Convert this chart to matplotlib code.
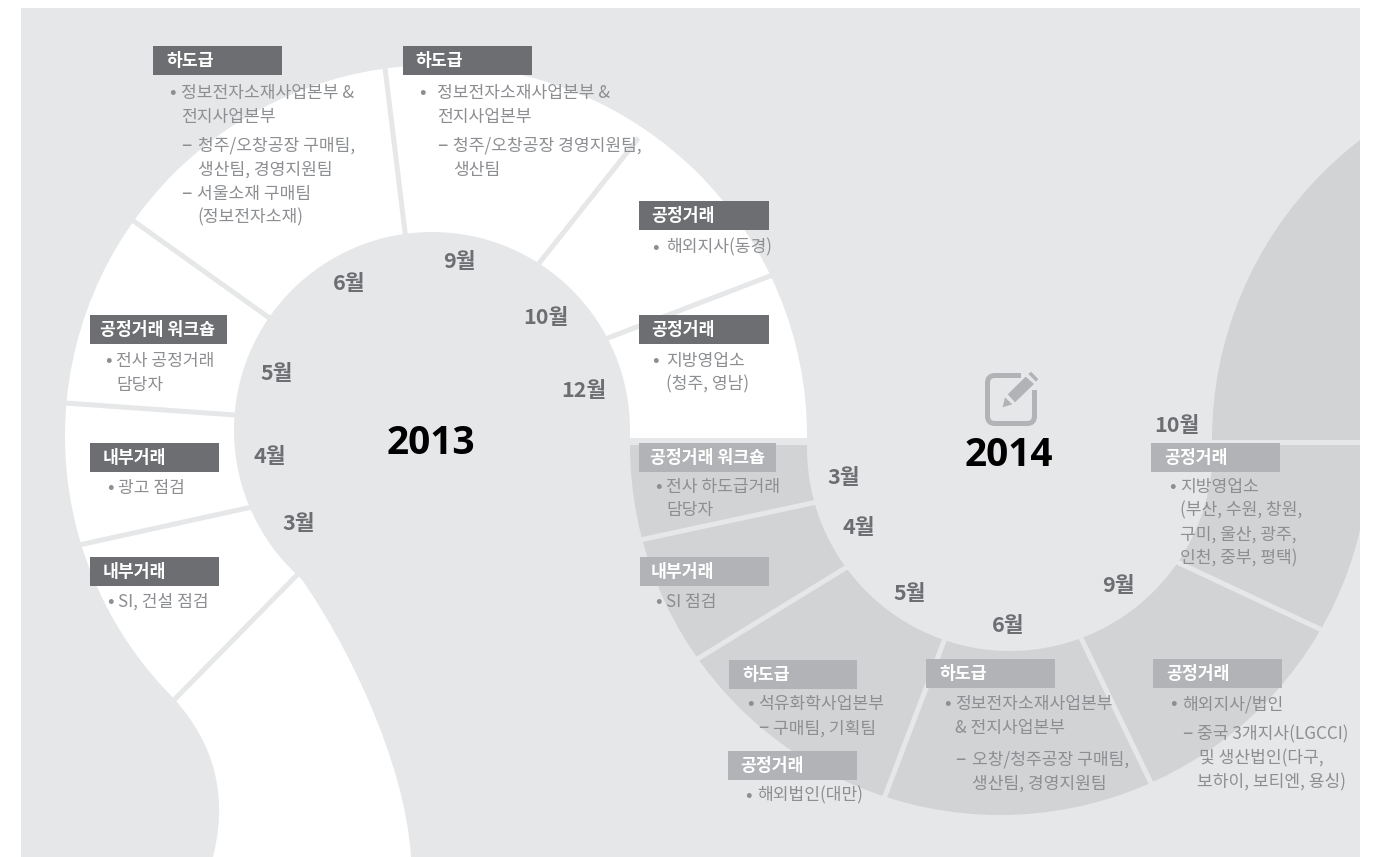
import numpy as np
import matplotlib
matplotlib.use('Agg')
import matplotlib.pyplot as plt
from matplotlib.patches import Rectangle, Circle, PathPatch, Polygon
from matplotlib.path import Path

plt.rcParams['font.family'] = ['Noto Sans CJK KR', 'DejaVu Sans']

# ------------------------------ Colours -----------------------------------
BG = '#e6e7e8'
RING = '#d1d3d4'
DARK_BOX = '#6d6e71'
LIGHT_BOX = '#b1b3b6'
TEXT = '#8c8e91'
MONTH = '#6d6e71'

# ------------------------------ Text content -----------------------------------
months_2013 = ['6월', '9월', '10월', '12월', '5월', '4월', '3월']
months_2013_x = [349, 459, 546, 584, 277, 270, 299]
months_2013_y = [281, 259, 315, 388, 371, 454, 521]

months_2014 = ['3월', '4월', '5월', '6월', '9월', '10월']
months_2014_x = [844, 859, 910, 1008, 1118, 1177]
months_2014_y = [475, 526, 591, 623, 584, 423]

# header boxes: label, left, top, width, text x
dark_labels = ['하도급', '하도급', '공정거래 워크숍', '내부거래', '내부거래', '공정거래', '공정거래']
dark_left = [153, 403, 90, 90, 90, 639, 639]
dark_top = [46, 46, 315, 443, 557, 201, 315]
dark_width = [129, 129, 137, 129, 129, 130, 130]
dark_text_x = [166, 415, 100, 103, 103, 651, 651]

light_labels = ['공정거래 워크숍', '내부거래', '하도급', '공정거래', '하도급', '공정거래', '공정거래']
light_left = [639, 640, 729, 728, 926, 1151, 1153]
light_top = [443, 557, 660, 751, 659, 443, 659]
light_width = [137, 129, 128, 129, 129, 129, 129]
light_text_x = [650, 651, 742, 740, 939, 1164, 1166]

body_lines = [
    '정보전자소재사업본부 &', '전지사업본부', '청주/오창공장 구매팀,', '생산팀, 경영지원팀',
    '서울소재 구매팀', '(정보전자소재)',
    '정보전자소재사업본부 &', '전지사업본부', '청주/오창공장 경영지원팀,', '생산팀',
    '해외지사(동경)', '지방영업소', '(청주, 영남)',
    '전사 공정거래', '담당자', '광고 점검', 'SI, 건설 점검',
    '전사 하도급거래', '담당자', 'SI 점검',
    '석유화학사업본부', '구매팀, 기획팀', '해외법인(대만)',
    '정보전자소재사업본부', '& 전지사업본부', '오창/청주공장 구매팀,', '생산팀, 경영지원팀',
    '지방영업소', '(부산, 수원, 창원,', '구미, 울산, 광주,', '인천, 중부, 평택)',
    '해외지사/법인', '중국 3개지사(LGCCI)', '및 생산법인(다구,', '보하이, 보티엔, 용싱)',
]
body_x = [
    181, 181, 198, 198, 197, 197,
    437, 437, 453, 453,
    666, 666, 666,
    116, 116, 118, 118,
    666, 666, 666,
    758, 773, 757,
    955, 955, 972, 972,
    1180, 1180, 1180, 1180,
    1182, 1197, 1199, 1197,
]
body_y = [
    91, 115, 144, 168, 192, 216,
    91, 115, 144, 168,
    246, 359, 383,
    359, 383, 486, 600,
    485, 509, 601,
    703, 727, 794,
    703, 727, 758, 782,
    485, 509, 533, 557,
    703, 733, 757, 781,
]

bullet_x = [172, 422, 655, 655, 108, 110, 110, 658, 658, 750, 748, 947, 1172, 1173]
bullet_y = [91, 91, 246, 359, 359, 486, 600, 485, 601, 703, 794, 703, 485, 703]

dash_x = [181, 181, 437, 758, 955, 1182]
dash_y = [144, 192, 144, 727, 758, 733]

# ------------------------------ Figure -----------------------------------
fig = plt.figure(figsize=(13.78, 8.57), dpi=100, facecolor='white')
ax = fig.add_axes([0, 0, 1, 1])
ax.set_xlim(0, 1378)
ax.set_ylim(857, 0)
ax.axis('off')

ax.add_patch(Rectangle((21, 8), 1339, 849, facecolor=BG, edgecolor='none', zorder=1))


def clipped_circle(cx, cy, r, color, clip, zorder):
    # circle cut down to a rectangle (x, y, w, h)
    c = Circle((cx, cy), r, facecolor=color, edgecolor='none', zorder=zorder)
    ax.add_patch(c)
    c.set_clip_path(Rectangle(clip[:2], clip[2], clip[3], transform=ax.transData))


# ------------------------------ 2013 band -----------------------------------
clipped_circle(436, 436, 371, 'white', (0, 0, 1378, 438), 2)

# lower left part, the band bends away in an S shape
angles = np.radians(np.linspace(180, 135, 40))
verts = [(436 + 371 * np.cos(a), 436 + 371 * np.sin(a)) for a in angles]
codes = [Path.MOVETO] + [Path.LINETO] * (len(verts) - 1)
verts += [(200, 728), (233, 778), (213, 857), (411, 857), (405, 760), (345, 640), (300, 577),
          (300, 430), (65, 430), (65, 430)]
codes += [Path.CURVE4] * 3 + [Path.LINETO] + [Path.CURVE4] * 3 + [Path.LINETO, Path.LINETO, Path.CLOSEPOLY]
ax.add_patch(PathPatch(Path(verts, codes), facecolor='white', edgecolor='none', zorder=2))

ax.add_patch(Circle((432, 430), 198, facecolor=BG, edgecolor='none', zorder=3))

# ------------------------------ 2014 ring -----------------------------------
clipped_circle(1000, 445, 370, RING, (0, 445, 1360, 412), 2)
clipped_circle(1010, 448, 203, BG, (0, 445, 1360, 412), 3)
clipped_circle(1590, 440, 378, RING, (0, 0, 1360, 440), 2)

# ------------------------------ Dividers -----------------------------------
div_2013_x = [(405, 385), (268, 135), (235, 65), (252, 79), (299, 172), (540, 637), (608, 770)]
div_2013_y = [(232, 68), (317, 222), (415, 403), (507, 545), (573, 702), (262, 140), (338, 276)]
div_2014_x = [(817, 640), (847, 699), (944, 885), (1081, 1151), (1177, 1322)]
div_2014_y = [(502, 540), (567, 658), (641, 796), (638, 783), (562, 630)]

for xs, ys in zip(div_2013_x + div_2014_x, div_2013_y + div_2014_y):
    ax.plot(xs, ys, color=BG, lw=3.6, solid_capstyle='projecting', zorder=4)

# ------------------------------ Header boxes -----------------------------------
for labels, lefts, tops, widths, tx, col in [
    (dark_labels, dark_left, dark_top, dark_width, dark_text_x, DARK_BOX),
    (light_labels, light_left, light_top, light_width, light_text_x, LIGHT_BOX),
]:
    for lab, l, t, w, x in zip(labels, lefts, tops, widths, tx):
        ax.add_patch(Rectangle((l, t), w, 29, facecolor=col, edgecolor='none', zorder=5))
        ax.text(x, t + 15, lab, color='white', fontsize=12.4, fontweight='bold',
                ha='left', va='center', zorder=6)

# ------------------------------ Body text -----------------------------------
for s, x, y in zip(body_lines, body_x, body_y):
    ax.text(x, y + 1.5, s, color=TEXT, fontsize=12.3, fontweight='light', ha='left', va='center', zorder=6)
for x, y in zip(bullet_x, bullet_y):
    ax.text(x, y + 1, '•', color=TEXT, fontsize=14, ha='center', va='center', zorder=6)
for x, y in zip(dash_x, dash_y):
    ax.text(x, y + 1, '–', color=TEXT, fontsize=14, fontweight='light', ha='left', va='center', zorder=6)

# ------------------------------ Month labels and years -----------------------------------
for m, x, y in zip(months_2013 + months_2014, months_2013_x + months_2014_x, months_2013_y + months_2014_y):
    ax.text(x, y + 2, m, color=MONTH, fontsize=15.5, fontweight='bold', ha='center', va='center', zorder=6)

ax.text(431, 443, '2013', color='black', fontsize=28, fontweight='bold',
        family=['Open Sans', 'DejaVu Sans'], ha='center', va='center', zorder=6)
ax.text(1009, 455, '2014', color='black', fontsize=28, fontweight='bold',
        family=['Open Sans', 'DejaVu Sans'], ha='center', va='center', zorder=6)

# ------------------------------ Pencil icon -----------------------------------
box_verts = [(1021, 375.5), (995, 375.5), (987.5, 375.5), (987.5, 383), (987.5, 416), (987.5, 423.5),
             (995, 423.5), (1027, 423.5), (1034.5, 423.5), (1034.5, 416), (1034.5, 390)]
box_codes = [Path.MOVETO, Path.LINETO, Path.CURVE3, Path.CURVE3, Path.LINETO, Path.CURVE3,
             Path.CURVE3, Path.LINETO, Path.CURVE3, Path.CURVE3, Path.LINETO]
ax.add_patch(PathPatch(Path(box_verts, box_codes), facecolor='none', edgecolor=LIGHT_BOX,
                       lw=3.6, capstyle='butt', zorder=5))
pencil_parts = [
    [(1007.7, 394.3), (1025.7, 376.7), (1034, 384), (1015, 402.3)],
    [(1028.3, 374), (1031, 371.7), (1038.3, 379), (1036, 381.7)],
    [(1002.7, 407.3), (1005, 397.3), (1012.3, 404.3)],
]
for part in pencil_parts:
    ax.add_patch(Polygon(part, closed=True, facecolor=LIGHT_BOX, edgecolor='none', zorder=5))

fig.savefig('out.png', dpi=100, facecolor='white')
